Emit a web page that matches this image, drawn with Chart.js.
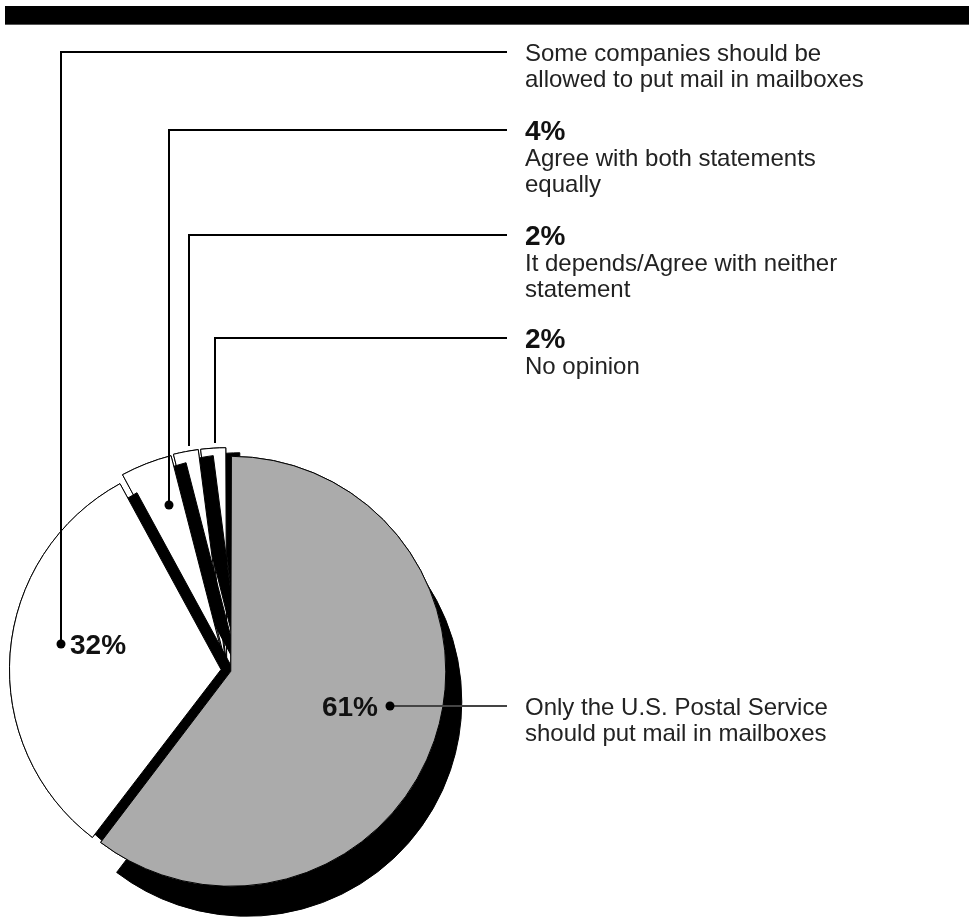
<!DOCTYPE html>
<html>
<head>
<meta charset="utf-8">
<script src="https://cdn.jsdelivr.net/npm/chart.js@4/dist/chart.umd.min.js"></script>
<style>
  html, body { margin: 0; padding: 0; background: #fff; }
  #wrap { position: relative; width: 969px; height: 919px; overflow: hidden; }
  #topbar { position: absolute; left: 5px; top: 6px; width: 964px; height: 18px; background: #000; border-bottom: 1px solid #555; }
  #chart { position: absolute; left: 0; top: 0; }
</style>
</head>
<body>
<div id="wrap">
  <div id="topbar"></div>
  <canvas id="chart" width="969" height="919"></canvas>
</div>
<script>
// Survey answers, clockwise from 12 o'clock
const answers = [
    'Only the U.S. Postal Service should put mail in mailboxes',
    'Some companies should be allowed to put mail in mailboxes',
    'Agree with both statements equally',
    'It depends/Agree with neither statement',
    'No opinion'
];
const shares = [61, 32, 4, 2, 2];
const shareLabels = ['61%', '32%', '4%', '2%', '2%'];
// answer texts as they are broken next to the pie
const answerLines = [
    ['Only the U.S. Postal Service', 'should put mail in mailboxes'],
    ['Some companies should be', 'allowed to put mail in mailboxes'],
    ['Agree with both statements', 'equally'],
    ['It depends/Agree with neither', 'statement'],
    ['No opinion']
];

// look
const sliceColors = ['#ababab', '#ffffff', '#ffffff', '#ffffff', '#ffffff'];
const sliceOffsets = [16, 24, 24, 24, 24];
const shadowOffsets = [[16, 30], [17, 9], [15, 7], [15, 6], [14, 5]];
const regularFont = '24px "Liberation Sans", Arial, sans-serif';
const boldFont = 'bold 28px "Liberation Sans", Arial, sans-serif';
const textX = 525;
const lineEndX = 507;
const lineGap = 26;

// leader lines: point on the slice (t = share of the angle, f = share of the radius)
// rowY = height of the text row on the right (null = same height as the dot)
const leaders = [
    { slice: 0, t: 0.47, f: 0.77, dot: true, rowY: null, pct: 'left', color: '#444' },
    { slice: 1, t: 0.54, f: 0.77, dot: true, rowY: 52, pct: 'right', color: '#000' },
    { slice: 2, t: 0.65, f: 0.8, dot: true, rowY: 130, pct: 'text', color: '#000' },
    { slice: 3, t: 0.6, f: 1, dot: false, rowY: 235, pct: 'text', color: '#000' },
    { slice: 4, t: 0.55, f: 1, dot: false, rowY: 338, pct: 'text', color: '#000' }
];

function anchor(arc, t, f) {
    const p = arc.getProps(['x', 'y', 'startAngle', 'endAngle', 'outerRadius'], true);
    const mid = (p.startAngle + p.endAngle) / 2;
    const shift = (arc.options.offset || 0) / 4;
    const a = p.startAngle + t * (p.endAngle - p.startAngle);
    return {
        x: p.x + Math.cos(mid) * shift + Math.cos(a) * p.outerRadius * f,
        y: p.y + Math.sin(mid) * shift + Math.sin(a) * p.outerRadius * f
    };
}

function textAt(ctx, str, x, cy, font, align) {
    ctx.font = font;
    ctx.textAlign = align;
    ctx.textBaseline = 'alphabetic';
    const size = parseInt(font.match(/(\d+)px/)[1], 10);
    ctx.fillText(str, x, cy + size * 0.36);
}

const pieExtras = {
    id: 'pieExtras',
    // slices drawn back to front, each over its own hard black shadow
    beforeDatasetDraw(chart, args) {
        const ctx = chart.ctx;
        const arcs = args.meta.data;
        for (let i = arcs.length - 1; i >= 0; i--) {
            ctx.save();
            ctx.shadowColor = '#000';
            ctx.shadowBlur = 0;
            ctx.shadowOffsetX = shadowOffsets[i][0];
            ctx.shadowOffsetY = shadowOffsets[i][1];
            arcs[i].draw(ctx);
            ctx.restore();
            // once more without shadow, so the outline's shadow does not show inside
            arcs[i].draw(ctx);
        }
        return false;
    },
    afterDatasetsDraw(chart) {
        const ctx = chart.ctx;
        const arcs = chart.getDatasetMeta(0).data;
        leaders.forEach(l => {
            const arc = arcs[l.slice];
            let p = anchor(arc, l.t, l.f);
            if (!l.dot) p = { x: p.x, y: p.y - 10 };
            const x = Math.round(p.x);
            const y = Math.round(p.y);
            const rowY = l.rowY === null ? y : l.rowY;

            ctx.save();
            ctx.strokeStyle = l.color;
            ctx.lineWidth = 2;
            ctx.beginPath();
            ctx.moveTo(x, y);
            if (rowY !== y) ctx.lineTo(x, rowY);
            ctx.lineTo(lineEndX, rowY);
            ctx.stroke();
            if (l.dot) {
                ctx.fillStyle = '#000';
                ctx.beginPath();
                ctx.arc(x, y, 4.5, 0, Math.PI * 2);
                ctx.fill();
            }

            // percentage next to the dot
            ctx.fillStyle = '#111';
            if (l.pct === 'left') textAt(ctx, shareLabels[l.slice], x - 12, y, boldFont, 'right');
            if (l.pct === 'right') textAt(ctx, shareLabels[l.slice], x + 9, y, boldFont, 'left');

            // text block on the right
            let cy = rowY;
            if (l.pct === 'text') {
                textAt(ctx, shareLabels[l.slice], textX, cy, boldFont, 'left');
                cy += lineGap + 1;
            }
            ctx.fillStyle = '#222';
            answerLines[l.slice].forEach(line => {
                textAt(ctx, line, textX, cy, regularFont, 'left');
                cy += lineGap;
            });
            ctx.restore();
        });
    }
};

new Chart(document.getElementById('chart'), {
    type: 'pie',
    data: {
        labels: answers,
        datasets: [{
            data: shares,
            backgroundColor: sliceColors,
            borderColor: '#000',
            borderWidth: 1,
            offset: sliceOffsets,
            radius: 211
        }]
    },
    options: {
        responsive: false,
        animation: false,
        events: [],
        layout: {
            padding: { left: 0, right: 515, top: 421, bottom: 0 }
        },
        plugins: {
            legend: { display: false },
            tooltip: { enabled: false }
        }
    },
    plugins: [pieExtras]
});
</script>
</body>
</html>
